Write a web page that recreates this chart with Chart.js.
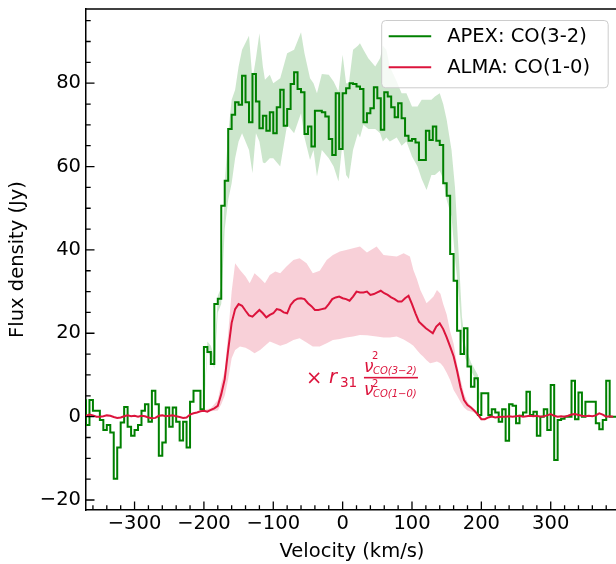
<!DOCTYPE html>
<html><head><meta charset="utf-8">
<script src="https://cdn.jsdelivr.net/npm/chart.js@4/dist/chart.umd.min.js"></script>
<style>html,body{margin:0;padding:0;overflow:hidden;background:#fff;width:616px;height:564px}canvas{display:block}</style>
</head><body>
<canvas id="c" width="640" height="564"></canvas>
<script>
// Channel grid (km/s) for both spectra
const velStart = -370, velStep = 5;

// APEX CO(3-2) flux (Jy), one value per channel from -370 km/s
const apexFlux = [
4.2,-2,4,1.4,1.4,-0.8,-3.2,-2,-3.8,-14.9,
-7.4,-1.4,2.3,-2.4,-4.6,-3.2,-2,1.4,3,-1.2,
6.2,3,-9.4,-6.2,2.2,-2.4,2.2,-1.2,-5.7,-1.2,
-7.4,3.6,6.2,6.2,1.8,16.7,15.5,12.6,27,28.3,
50.6,56.6,69,72.4,75.4,74.8,81.8,75.4,70.6,82.2,
75.6,69.2,72.2,68.6,73,68,74.2,78.4,69.8,73.8,
79.8,82.6,78.6,77.8,67.8,69.6,64.8,73.4,73.4,73,
72,66.6,62.8,77.6,64.2,77.6,78.8,80,79.8,79.2,
78.6,70.6,72.8,74,79,76.4,68.8,77.8,76.8,74.2,
71.8,75.2,71.6,67.4,66.2,66.6,65.8,61.6,61.6,68.6,
66.4,69.6,66.2,65.2,56,53,39,32.6,20.6,15,
21.2,12,7.2,9.2,0.4,5.6,5.6,0.4,1.8,1,
-1.2,1.8,-5.8,3,2.6,-1.6,0.2,1,6,0.4,
1.2,-4.6,0,1.8,-3.2,7.6,-10.4,-0.8,-0.5,0,
0,8.6,-0.6,5.8,0,3.6,3.6,3.6,-1.6,-3,
-0.8,8.6,0
];

// ALMA CO(1-0) scaled flux (Jy), same channel grid
const almaFlux = [
0.2,0.5,0.3,0,0,0.1,0.3,0.2,-0.1,-0.3,
-0.2,0.1,0.3,0.1,0.2,0,0.2,0.1,-0.2,-0.4,
-0.3,0.2,0.3,0.1,0.2,0.3,0.1,-0.1,-0.3,-0.2,
0.5,0.8,1.0,1.3,1.4,1.2,1.6,2.0,2.6,5.4,
9,16,22.5,25.8,27,26.6,25.4,24.3,24,24.8,
25.6,24.8,23.8,24.4,24.8,25.8,25.6,25,24.8,26.8,
27.8,28.3,28.4,28.2,27.2,26.5,25.6,25.6,25.8,26,
27,28.2,28.6,28.8,28.4,28.2,27.8,28.8,30,29.8,
29.8,30,29.2,29.4,29.8,30.2,29.6,29.2,28.6,28.2,
27.6,27.6,28.4,29,27,24.8,22.8,22,21.2,20.6,
20,21.6,22.4,21,19,16.8,14.5,11,7,4,
2.8,2.2,1.4,0.5,-0.6,-0.6,-0.2,0,-0.2,-0.1,
0,0,0.1,0,0.1,0.2,0,0.1,0.2,0.1,
0.2,0,0.1,0.3,0.6,0.2,0,0.1,0,0.2,
0.5,0.6,0.4,0.2,0.1,0.2,0.1,0.3,0.8,0.5,
0,0.1,0
];

// APEX uncertainty band
const apexBandVel = [-200,-195,-190,-185,-180,-175,-170,-165,-160,-155,-150,-145,-135,-130,-125,-120,-115,-112,-105,-100,-90,-80,-70,-60,-55,-47,-42,-37,-30,-20,-13,-6,0,5,9,15,22,25,30,37,47,54,58,63,68,78,85,92,100,108,114,121,128,133,140,145,150,157,162,167,172,177,185,195,200];
const apexBandLow = [1.5,15.5,14.5,11.5,25,27,45,52,56,62,66,68,64,58.4,68,66,61,60.8,62,62,60,70,68,72.8,67,61.6,64,57.6,64,62,60,56.4,66,58,57,64,68,67,70,69,69,68,66,67,66,67,65,66,62.4,60,57,54.4,58,58,59,57,52,48,38,30,19,14,11,8,0.4];
const apexBandHigh = [2.5,18,17,14,29,31,56,68,76,78.4,84,88,91.4,80.8,86,92,84,80.8,82,80,81.2,87.2,88,92.2,87.2,81.2,80,77.6,82.2,82,80.4,78,86.8,80,80,88,89,89.6,88,86,84,86,89,88,84,80.4,77.6,77.6,74.4,74.4,76,76,76,76.8,77.6,75,71.2,64,55,40,24,17,13,10,1];

// ALMA uncertainty band
const almaBandVel = [-200,-190,-180,-175,-170,-165,-160,-155,-148,-140,-134,-127,-119,-112,-105,-97,-90,-81,-71,-62,-52,-43,-33,-23,-14,-4,5,15,25,35,49,59,68,78,88,97,102,107,112,116,121,126,131,136,141,145,150,155,160,165,170,175,180,190,200];
const almaBandLow = [1.2,1.3,1.5,3,5,9,14,16,16.8,16.5,16,15.2,16,17,18,17.5,17,17.5,18.4,18.8,17.8,16.8,16.8,17.6,18.4,18.6,19,19.2,19.6,19.5,19.2,19,19,19.2,18.5,17.6,17,16,15,14.4,13.5,12.8,13,13.2,12.8,12,10.5,8.8,6.4,5,3.5,2.2,1.5,1,-0.6];
const almaBandHigh = [1.6,2,4,8,11,20,30,36.8,35.2,33.6,32,34.4,33.2,32,34,34.8,34.4,36,37.6,38,36.8,34.4,35,37.6,38.8,39.6,40,40.4,40.8,39.4,40.8,38.8,38.6,38.4,39.2,38.4,35.2,33,30.4,29,27.2,28,28.8,30.4,29.5,27,24.5,20.5,17.5,12.5,9,5.5,3.5,1.6,0];

const xTicks = [-300,-200,-100,0,100,200,300];
const yTicks = [-20,0,20,40,60,80];
const seriesLabels = ['APEX: CO(3-2)', 'ALMA: CO(1-0)'];
const xRange = [-370, 397];
const yRange = [-22.4, 97.8];
const formulaAnchor = [-50, 9.35];

const GREEN = '#008000', RED = '#DC143C';
const FONT = "'DejaVu Sans', sans-serif";
Chart.defaults.font.family = FONT;
Chart.defaults.font.size = 19.5;
Chart.defaults.color = '#000';

const toPts = (xs, ys) => xs.map((x, i) => ({x: x, y: ys[i]}));
const chanVel = apexFlux.map((_, i) => velStart + i * velStep);
const apexPts = toPts(chanVel, apexFlux);
apexPts.push({x: chanVel[chanVel.length - 1] + velStep, y: apexFlux[apexFlux.length - 1]});
const almaPts = toPts(chanVel, almaFlux);
const fmt = v => (v < 0 ? '\u2212' + Math.abs(v) : String(v));

const inwardTicks = {
  id: 'inwardTicks',
  afterDatasetsDraw(chart) {
    const ctx = chart.ctx, ca = chart.chartArea, xs = chart.scales.x, ys = chart.scales.y;
    ctx.save();
    ctx.strokeStyle = '#000';
    ctx.lineWidth = 1.3;
    ctx.beginPath();
    for (let v = -360; v <= xRange[1]; v += 20) {
      const p = xs.getPixelForValue(v);
      const len = xTicks.includes(v) ? 8.5 : 4.7;
      ctx.moveTo(p, ca.bottom); ctx.lineTo(p, ca.bottom - len);
    }
    for (let v = -20; v <= yRange[1]; v += 5) {
      const p = ys.getPixelForValue(v);
      const len = yTicks.includes(v) ? 8.5 : 4.7;
      ctx.moveTo(ca.left, p); ctx.lineTo(ca.left + len, p);
    }
    ctx.stroke();
    ctx.lineWidth = 1.5;
    ctx.beginPath();
    ctx.moveTo(ca.left, ca.top); ctx.lineTo(ca.right, ca.top);
    ctx.stroke();
    ctx.restore();
  }
};

const formula = {
  id: 'formula',
  afterDatasetsDraw(chart) {
    const ctx = chart.ctx;
    const ax = chart.scales.x.getPixelForValue(formulaAnchor[0]);
    const ay = chart.scales.y.getPixelForValue(formulaAnchor[1]);
    ctx.save();
    ctx.fillStyle = RED;
    ctx.textAlign = 'left';
    ctx.textBaseline = 'alphabetic';
    ctx.font = "19.5px " + FONT;
    ctx.fillText('\u00d7', ax - 2, ay + 6.7);
    ctx.font = "italic 19.5px " + FONT;
    ctx.fillText('r', ax + 21, ay + 5.5);
    ctx.font = "13.6px " + FONT;
    ctx.fillText('31', ax + 32, ay + 9.3);
    ctx.fillRect(ax + 56, ay - 0.8, 54, 1.6);
    ctx.font = "italic 17px " + FONT;
    ctx.fillText('\u03bd', ax + 56, ay - 5.5);
    ctx.fillText('\u03bd', ax + 56, ay + 17.5);
    ctx.font = "10px " + FONT;
    ctx.fillText('2', ax + 64, ay - 18.5);
    ctx.fillText('2', ax + 64, ay + 9.3);
    ctx.font = "italic 10px " + FONT;
    ctx.fillText('CO(3\u22122)', ax + 65, ay - 4);
    ctx.fillText('CO(1\u22120)', ax + 65, ay + 19.5);
    ctx.restore();
  }
};

const legendBox = {
  id: 'legendBox',
  afterDraw(chart) {
    const ctx = chart.ctx, ca = chart.chartArea;
    const w = 226.5, h = 67.3;
    const x0 = ca.right - 10.3 - w, y0 = ca.top + 11;
    ctx.save();
    ctx.beginPath();
    ctx.roundRect(x0 + 0.5, y0 + 0.5, w, h, 4);
    ctx.fillStyle = 'rgba(255,255,255,0.8)';
    ctx.fill();
    ctx.strokeStyle = '#cccccc';
    ctx.lineWidth = 1;
    ctx.stroke();
    const entries = [
      {label: seriesLabels[0], color: GREEN, y: y0 + 16.3},
      {label: seriesLabels[1], color: RED, y: y0 + 47.3}
    ];
    ctx.font = "19.5px " + FONT;
    ctx.textAlign = 'left';
    ctx.textBaseline = 'middle';
    for (const e of entries) {
      ctx.strokeStyle = e.color;
      ctx.lineWidth = 2;
      ctx.beginPath();
      ctx.moveTo(x0 + 7.5, e.y); ctx.lineTo(x0 + 50, e.y);
      ctx.stroke();
      ctx.fillStyle = '#000';
      ctx.fillText(e.label, x0 + 66, e.y + 1);
    }
    ctx.restore();
  }
};

const bandDs = (vel, vals, fillColor, fill) => ({
  data: toPts(vel, vals), borderColor: 'transparent', borderWidth: 0,
  backgroundColor: fillColor, fill: fill, pointRadius: 0, tension: 0
});

new Chart(document.getElementById('c'), {
  type: 'line',
  data: {
    datasets: [
      {label: seriesLabels[1], data: almaPts, borderColor: RED, borderWidth: 2, pointRadius: 0, fill: false, tension: 0},
      {label: seriesLabels[0], data: apexPts, borderColor: GREEN, borderWidth: 2, pointRadius: 0, fill: false, stepped: 'after'},
      bandDs(almaBandVel, almaBandHigh, 'rgba(220,20,60,0.2)', '+1'),
      bandDs(almaBandVel, almaBandLow, 'transparent', false),
      bandDs(apexBandVel, apexBandHigh, 'rgba(0,128,0,0.2)', '+1'),
      bandDs(apexBandVel, apexBandLow, 'transparent', false)
    ]
  },
  options: {
    responsive: false,
    animation: false,
    events: [],
    devicePixelRatio: 1,
    layout: {padding: {top: 9, right: 22, left: 0, bottom: 0}},
    plugins: {
      legend: {display: false},
      tooltip: {enabled: false},
      filler: {drawTime: 'beforeDatasetsDraw'}
    },
    scales: {
      x: {
        type: 'linear', min: xRange[0], max: xRange[1],
        afterBuildTicks: s => { s.ticks = xTicks.map(v => ({value: v})); },
        afterFit: s => { s.height = 54; s.paddingLeft = 0; s.paddingRight = 0; },
        ticks: {padding: 2, maxRotation: 0, autoSkip: false, callback: v => fmt(v), font: {size: 19.5}},
        grid: {display: true, drawOnChartArea: false, drawTicks: false},
        border: {display: true, color: '#000', width: 1.5},
        title: {display: true, text: 'Velocity (km/s)', padding: {top: 0, bottom: 0.5}, font: {size: 19.5}}
      },
      y: {
        type: 'linear', min: yRange[0], max: yRange[1],
        afterBuildTicks: s => { s.ticks = yTicks.map(v => ({value: v})); },
        afterFit: s => { s.width = 86; s.paddingTop = 0; s.paddingBottom = 0; },
        ticks: {padding: 5, autoSkip: false, callback: v => fmt(v), font: {size: 19.5}},
        grid: {display: true, drawOnChartArea: false, drawTicks: false},
        border: {display: true, color: '#000', width: 1.5},
        title: {display: true, text: 'Flux density (Jy)', padding: {top: 6.3, bottom: 0}, font: {size: 19.5}}
      }
    }
  },
  plugins: [inwardTicks, formula, legendBox]
});
</script>
</body></html>
